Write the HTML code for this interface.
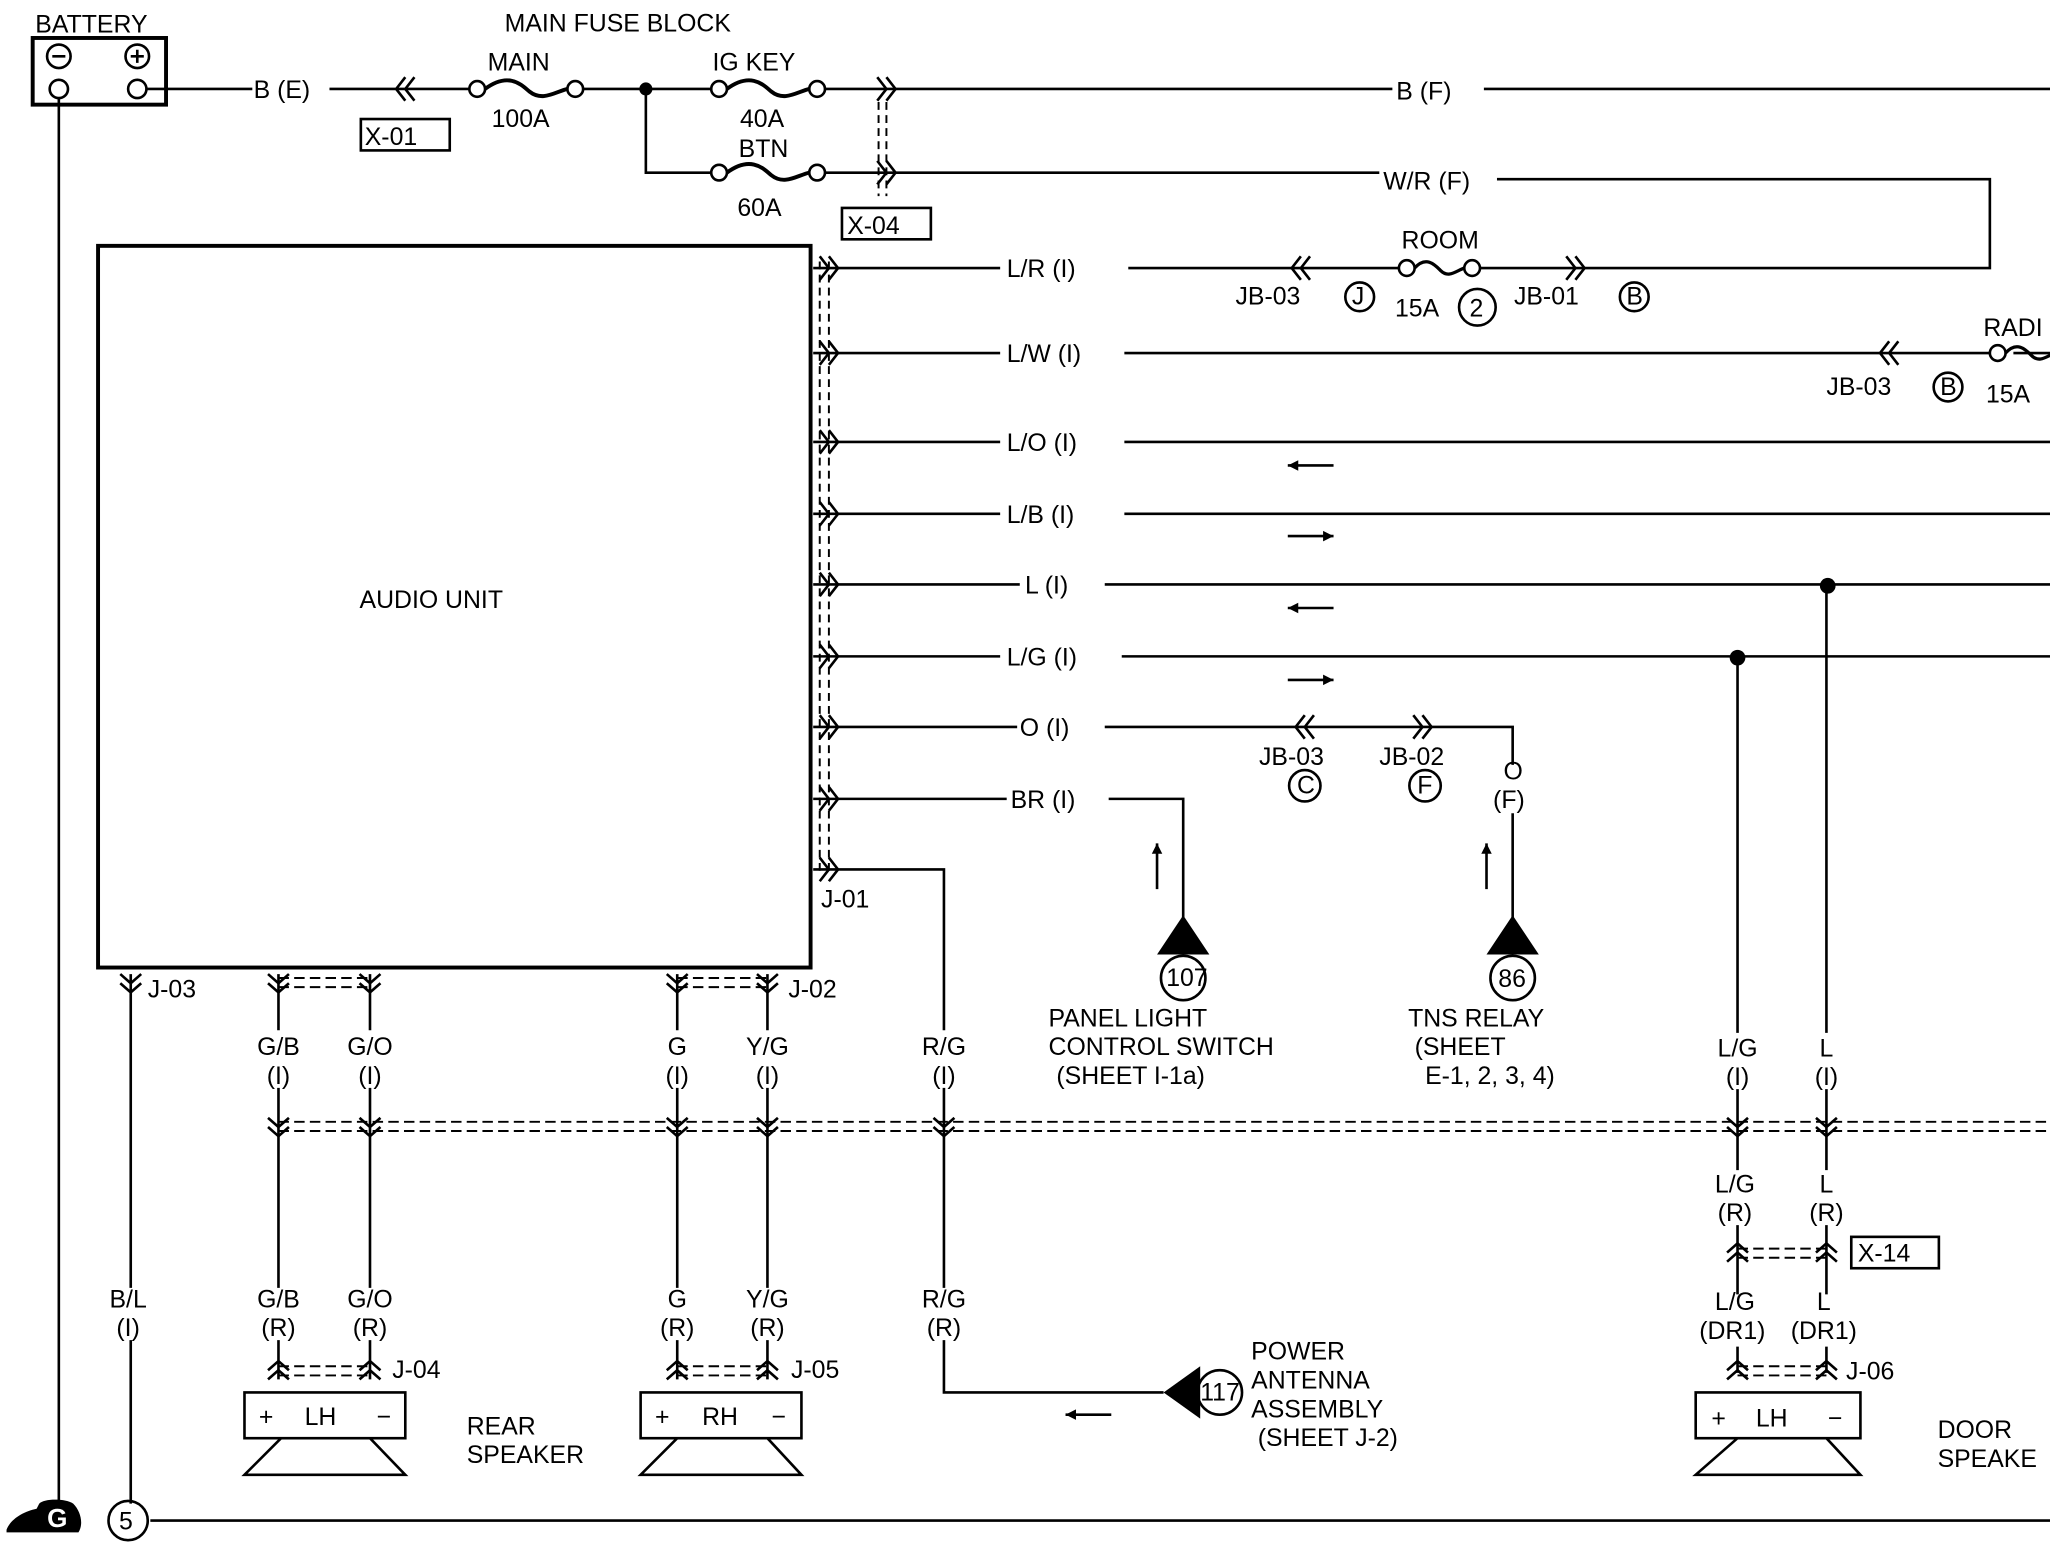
<!DOCTYPE html>
<html><head><meta charset="utf-8"><style>
html,body{margin:0;padding:0;background:#fff;}
svg{display:block;}
text{font-family:"Liberation Sans",sans-serif;font-size:19px;fill:#000;}
</style></head><body>
<svg width="2050" height="1552" viewBox="0 0 1568 1187" xmlns="http://www.w3.org/2000/svg">
<defs>
<g id="cr"><path d="M-7 -9 L0 0 L-7 9 M0 -9 L7 0 L0 9" fill="none" stroke="#000" stroke-width="2"/></g>
<g id="cl"><path d="M7 -9 L0 0 L7 9 M0 -9 L-7 0 L0 9" fill="none" stroke="#000" stroke-width="2"/></g>
<g id="cd"><path d="M-8 -7 L0 0 L8 -7 M-8 0 L0 7 L8 0" fill="none" stroke="#000" stroke-width="2"/></g>
<g id="cu"><path d="M-8 7 L0 0 L8 7 M-8 0 L0 -7 L8 0" fill="none" stroke="#000" stroke-width="2"/></g>
<g id="fuse"><circle cx="0" cy="0" r="6" fill="#fff" stroke="#000" stroke-width="2"/><circle cx="75" cy="0" r="6" fill="#fff" stroke="#000" stroke-width="2"/><path d="M6 0 C25 -14 35 -2 40 2 C50 10 60 2 69 0" fill="none" stroke="#000" stroke-width="3"/></g>
<g id="sfuse"><circle cx="0" cy="0" r="6" fill="#fff" stroke="#000" stroke-width="2"/><circle cx="50" cy="0" r="6" fill="#fff" stroke="#000" stroke-width="2"/><path d="M6 0 C15 -10 22 -2 26 2 C32 8 38 2 44 0" fill="none" stroke="#000" stroke-width="2.5"/></g>
</defs>
<g fill="none" stroke="#000" stroke-width="2">
<rect x="25" y="29" width="102" height="51" stroke-width="3"/>
<circle cx="45" cy="43" r="9"/><circle cx="105" cy="43" r="9"/>
<path d="M40 43 H50 M100 43 H110 M105 38 V48"/>
<circle cx="45" cy="68" r="7"/><circle cx="105" cy="68" r="7"/>
<path d="M45 75 V1150 M112 68 H193 M252 68 H360 M445 68 H545 M630 68 H1065 M1135 68 H1568"/>
<path d="M494 68 V132 H545 M630 132 H1055 M1145 137 H1522 V205 H1130 M1070 205 H863 M622 205 H765"/>
<path d="M672 78 V150 M678 78 V150" stroke-dasharray="6 4" stroke-width="1.5"/>
<rect x="276" y="91" width="68" height="24"/>
<rect x="644" y="159" width="68" height="24"/>
<rect x="75" y="188" width="545" height="552" stroke-width="3"/>
<path d="M627 200 V670 M634 200 V670" stroke-dasharray="6 4" stroke-width="1.5"/>
<path d="M622 270 H765 M860 270 H1523 M1540 270 H1568"/>
<path d="M622 338 H765 M860 338 H1568 M622 393 H765 M860 393 H1568 M622 447 H780 M845 447 H1568 M622 502 H765 M858 502 H1568"/>
<path d="M622 556 H778 M845 556 H1157 V585 M1157 622 V705"/>
<path d="M622 611 H770 M848 611 H905 V705"/>
<path d="M622 665 H722 V788 M722 832 V985 M722 1025 V1065 H890"/>
<path d="M985 356 H1020 M985 465 H1020 M815 1082 H850 M985 410 H1020 M985 520 H1020"/>
<path d="M885 680 V645 M1137 680 V645"/>
<path d="M1329 502 V790 M1329 833 V895 M1329 937 V990 M1329 1030 V1050 M1397 447 V790 M1397 833 V895 M1397 937 V990 M1397 1030 V1050"/>
<path d="M100 745 V985 M100 1025 V1150"/>
<path d="M213 745 V788 M213 832 V985 M213 1025 V1055 M283 745 V788 M283 832 V985 M283 1025 V1055 M518 745 V788 M518 832 V985 M518 1025 V1055 M587 745 V788 M587 832 V985 M587 1025 V1055"/>
<path d="M213 748 H283 M213 755 H283 M518 748 H587 M518 755 H587 M213 858 H1568 M213 865 H1568 M1329 955 H1397 M1329 962 H1397 M213 1045 H283 M213 1052 H283 M518 1045 H587 M518 1052 H587 M1329 1045 H1397 M1329 1052 H1397" stroke-dasharray="8 4" stroke-width="1.5"/>
<rect x="1416" y="946" width="67" height="24"/>
<rect x="187" y="1065" width="123" height="35"/><path d="M215 1100 L187 1128 H310 L283 1100"/>
<rect x="490" y="1065" width="123" height="35"/><path d="M518 1100 L490 1128 H613 L587 1100"/>
<rect x="1297" y="1065" width="126" height="35"/><path d="M1329 1100 L1297 1128 H1423 L1397 1100"/>
<path d="M115 1163 H1568"/>
<circle cx="98" cy="1163" r="15"/>
<circle cx="905" cy="748" r="17"/><circle cx="1157" cy="748" r="17"/><circle cx="933" cy="1065" r="17"/>
<circle cx="1040" cy="227" r="11"/><circle cx="1130" cy="235" r="14"/><circle cx="1250" cy="227" r="11"/>
<circle cx="1490" cy="296" r="11"/><circle cx="998" cy="601" r="12"/><circle cx="1090" cy="601" r="12"/>
</g>
<g fill="#000">
<circle cx="494" cy="68" r="5"/><circle cx="1398" cy="448" r="6"/><circle cx="1329" cy="503" r="6"/>
<path d="M905 700 L885 730 H925 Z"/>
<path d="M1157 700 L1137 730 H1177 Z"/>
<path d="M890 1065 L918 1045 V1085 Z"/>
<path d="M1020 410 l-8 -4 v8 Z M1020 520 l-8 -4 v8 Z M985 356 l8 -4 v8 Z M985 465 l8 -4 v8 Z M815 1082 l8 -4 v8 Z M885 645 l-4 8 h8 Z M1137 645 l-4 8 h8 Z"/>
<path d="M5 1170 C8 1162 18 1156 28 1154 L30 1150 C34 1146 50 1146 56 1150 C62 1156 64 1166 60 1172 H5 Z"/>
</g>
<use href="#fuse" x="365" y="68"/><use href="#fuse" x="550" y="68"/><use href="#fuse" x="550" y="132"/>
<use href="#sfuse" x="1076" y="205"/><use href="#sfuse" x="1528" y="270"/>
<use href="#cl" x="310" y="68"/><use href="#cr" x="678" y="68"/><use href="#cr" x="678" y="132"/>
<use href="#cl" x="995" y="205"/><use href="#cr" x="1205" y="205"/><use href="#cl" x="1445" y="270"/>
<use href="#cl" x="998" y="556"/><use href="#cr" x="1088" y="556"/>
<use href="#cr" x="634" y="205"/><use href="#cr" x="634" y="270"/><use href="#cr" x="634" y="338"/><use href="#cr" x="634" y="393"/><use href="#cr" x="634" y="447"/><use href="#cr" x="634" y="502"/><use href="#cr" x="634" y="556"/><use href="#cr" x="634" y="611"/><use href="#cr" x="634" y="665"/>
<use href="#cd" x="100" y="752"/><use href="#cd" x="213" y="752"/><use href="#cd" x="283" y="752"/><use href="#cd" x="518" y="752"/><use href="#cd" x="587" y="752"/>
<use href="#cd" x="213" y="862"/><use href="#cd" x="283" y="862"/><use href="#cd" x="518" y="862"/><use href="#cd" x="587" y="862"/><use href="#cd" x="722" y="862"/><use href="#cd" x="1329" y="862"/><use href="#cd" x="1397" y="862"/>
<use href="#cu" x="1329" y="958"/><use href="#cu" x="1397" y="958"/>
<use href="#cu" x="213" y="1048"/><use href="#cu" x="283" y="1048"/><use href="#cu" x="518" y="1048"/><use href="#cu" x="587" y="1048"/><use href="#cu" x="1329" y="1048"/><use href="#cu" x="1397" y="1048"/>
<text x="27" y="25">BATTERY</text>
<text x="386" y="24">MAIN FUSE BLOCK</text>
<text x="373" y="54">MAIN</text><text x="545" y="54">IG KEY</text>
<text x="194" y="75">B (E)</text>
<text x="279" y="111">X-01</text>
<text x="376" y="97">100A</text><text x="566" y="97">40A</text><text x="565" y="120">BTN</text><text x="564" y="165">60A</text>
<text x="648" y="179">X-04</text>
<text x="1068" y="76">B (F)</text><text x="1058" y="145">W/R (F)</text>
<text x="1072" y="190">ROOM</text>
<text x="945" y="233">JB-03</text><text x="1034" y="233" font-size="16">J</text>
<text x="1067" y="242">15A</text><text x="1124" y="242" font-size="17">2</text>
<text x="1158" y="233">JB-01</text><text x="1244" y="233" font-size="16">B</text>
<text x="1517" y="257">RADI</text>
<text x="1397" y="302">JB-03</text><text x="1484" y="302" font-size="16">B</text><text x="1519" y="308">15A</text>
<text x="770" y="212">L/R (I)</text><text x="770" y="277">L/W (I)</text><text x="770" y="345">L/O (I)</text><text x="770" y="400">L/B (I)</text><text x="784" y="454">L (I)</text><text x="770" y="509">L/G (I)</text><text x="780" y="563">O (I)</text><text x="773" y="618">BR (I)</text>
<text x="275" y="465">AUDIO UNIT</text>
<text x="963" y="585">JB-03</text><text x="992" y="607" font-size="16">C</text>
<text x="1055" y="585">JB-02</text><text x="1084" y="607" font-size="16">F</text>
<text x="1150" y="596">O</text><text x="1142" y="618">(F)</text>
<text x="628" y="694">J-01</text>
<text x="113" y="763">J-03</text><text x="603" y="763">J-02</text>
<text x="892" y="754" font-size="14">107</text><text x="1146" y="755" font-size="16">86</text><text x="918" y="1071" font-size="14">117</text>
<text x="802" y="785">PANEL LIGHT</text><text x="802" y="807">CONTROL SWITCH</text><text x="808" y="829">(SHEET I-1a)</text>
<text x="1077" y="785">TNS RELAY</text><text x="1082" y="807">(SHEET</text><text x="1090" y="829">E-1, 2, 3, 4)</text>
<g text-anchor="middle">
<text x="213" y="807">G/B</text><text x="213" y="829">(I)</text><text x="283" y="807">G/O</text><text x="283" y="829">(I)</text>
<text x="518" y="807">G</text><text x="518" y="829">(I)</text><text x="587" y="807">Y/G</text><text x="587" y="829">(I)</text>
<text x="722" y="807">R/G</text><text x="722" y="829">(I)</text>
<text x="1329" y="808">L/G</text><text x="1329" y="830">(I)</text><text x="1397" y="808">L</text><text x="1397" y="830">(I)</text>
<text x="1327" y="912">L/G</text><text x="1327" y="934">(R)</text><text x="1397" y="912">L</text><text x="1397" y="934">(R)</text>
<text x="98" y="1000">B/L</text><text x="98" y="1022">(I)</text>
<text x="213" y="1000">G/B</text><text x="213" y="1022">(R)</text><text x="283" y="1000">G/O</text><text x="283" y="1022">(R)</text>
<text x="518" y="1000">G</text><text x="518" y="1022">(R)</text><text x="587" y="1000">Y/G</text><text x="587" y="1022">(R)</text>
<text x="722" y="1000">R/G</text><text x="722" y="1022">(R)</text>
<text x="1327" y="1002">L/G</text><text x="1325" y="1024">(DR1)</text><text x="1395" y="1002">L</text><text x="1395" y="1024">(DR1)</text>
</g>
<text x="1421" y="965">X-14</text>
<text x="300" y="1054">J-04</text><text x="605" y="1054">J-05</text><text x="1412" y="1055">J-06</text>
<text x="198" y="1090">+</text><text x="233" y="1090">LH</text><text x="288" y="1090">−</text>
<text x="501" y="1090">+</text><text x="537" y="1090">RH</text><text x="590" y="1090">−</text>
<text x="1309" y="1091">+</text><text x="1343" y="1091">LH</text><text x="1398" y="1091">−</text>
<text x="357" y="1097">REAR</text><text x="357" y="1119">SPEAKER</text>
<text x="957" y="1040">POWER</text><text x="957" y="1062">ANTENNA</text><text x="957" y="1084">ASSEMBLY</text><text x="962" y="1106">(SHEET J-2)</text>
<text x="1482" y="1100">DOOR</text><text x="1482" y="1122">SPEAKE</text>
<text x="91" y="1170">5</text>
<text x="36" y="1168" style="fill:#fff;font-size:20px;font-weight:bold">G</text>
</svg>
</body></html>
